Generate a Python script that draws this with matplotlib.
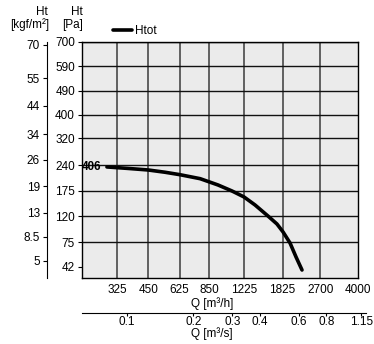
import numpy as np
import matplotlib
matplotlib.use("Agg")
import matplotlib.pyplot as plt
from matplotlib.ticker import NullLocator

plt.rcParams['font.family'] = ['Liberation Sans', 'DejaVu Sans']
plt.rcParams['font.size'] = 8.5

# fan curve
q_m3h = [293, 365, 450, 536, 626, 773, 931, 1076, 1221, 1369, 1566, 1720,
         1833, 1971, 2098, 2233]
h_pa = [235.6, 231.6, 227.4, 221.4, 215, 204.7, 189, 174.7, 160.8, 143.3,
        120.8, 105.7, 91.6, 73.8, 54, 38.3]

pa_ticks = [42, 75, 120, 175, 240, 320, 400, 490, 590, 700]
kgf_ticks = [5, 8.5, 13, 19, 26, 34, 44, 55, 70]
kgf_labels = ['5', '8.5', '13', '19', '26', '34', '44', '55', '70']
q_ticks = [325, 450, 625, 850, 1225, 1825, 2700, 4000]
qs_ticks = [0.1, 0.2, 0.3, 0.4, 0.6, 0.8, 1.15]
qs_labels = ['0.1', '0.2', '0.3', '0.4', '0.6', '0.8', '1.15']

W, H = 374, 344
fig = plt.figure(figsize=(W / 100, H / 100), dpi=100)

L, R, T, B = 82, 358, 42, 278
qmin, qmax = 226, 4000
ax = fig.add_axes([L / W, 1 - B / H, (R - L) / W, (B - T) / H])
ax.set_facecolor('#ebebeb')

ax.set_xscale('log')
ax.set_yscale('function', functions=(np.sqrt, np.square))
ax.set_xlim(qmin, qmax)
ax.set_ylim(30, 700)

ax.set_xticks(q_ticks, labels=[str(v) for v in q_ticks])
ax.xaxis.set_minor_locator(NullLocator())
ax.set_yticks(pa_ticks, labels=[str(v) for v in pa_ticks])
ax.yaxis.set_minor_locator(NullLocator())
ax.tick_params(axis='x', length=0, pad=4)
ax.tick_params(axis='y', length=3, pad=2)

for v in q_ticks[:-1]:
    ax.axvline(v, color='#3a3a3a', lw=1.1, zorder=1)
for v in pa_ticks[1:]:
    ax.axhline(v, color='#111111', lw=1.0, zorder=1)
for s in ax.spines.values():
    s.set_color('black')
    s.set_linewidth(1.0)

ax.plot(q_m3h, h_pa, color='black', lw=2.6, solid_capstyle='round',
        solid_joinstyle='round', zorder=3, label='Htot')
ax.text(qmin, h_pa[0], '406', fontweight='bold', ha='left', va='center',
        zorder=4)

ax.set_xlabel('Q [m³/h]')
ax.xaxis.set_label_coords(0.47, -0.08)

# second flow axis in m3/s, a bit longer than the plot on the right
ppd = (R - L) / np.log10(qmax / qmin)
R2 = 366
qmax2 = qmax * 10 ** ((R2 - R) / ppd)
sax = fig.add_axes([L / W, 1 - 313 / H, (R2 - L) / W, 0.001])
sax.set_xscale('log')
sax.set_xlim(qmin / 3600, qmax2 / 3600)
sax.set_xticks(qs_ticks, labels=qs_labels)
sax.xaxis.set_minor_locator(NullLocator())
sax.set_yticks([])
sax.tick_params(axis='x', length=2, pad=0.5)
for name, s in sax.spines.items():
    s.set_visible(name == 'bottom')
sax.patch.set_visible(False)
sax.set_xlabel('Q [m³/s]', labelpad=2)
sax.xaxis.set_label_coords((212 - L) / (R2 - L), -14 / 0.344)

# second pressure axis in kgf/m2
k = 9.80665
kx = 47
kax = fig.add_axes([kx / W, 1 - B / H, 0.001, (B - T) / H])
kax.set_yscale('function', functions=(np.sqrt, np.square))
kax.set_ylim(30 / k, 700 / k)
kax.set_yticks(kgf_ticks, labels=kgf_labels)
kax.yaxis.set_minor_locator(NullLocator())
kax.set_xticks([])
kax.tick_params(axis='y', length=3, pad=2)
for name, s in kax.spines.items():
    s.set_visible(name == 'left')
kax.patch.set_visible(False)

# headers
fig.text(48 / W, 1 - 12 / H, 'Ht', ha='right', va='center')
fig.text(49 / W, 1 - 25 / H, '[kgf/m²]', ha='right', va='center')
fig.text(83 / W, 1 - 12 / H, 'Ht', ha='right', va='center')
fig.text(83 / W, 1 - 25 / H, '[Pa]', ha='right', va='center')

fig.legend(loc='center left', bbox_to_anchor=(113 / W, 1 - 31 / H),
           frameon=False, handlelength=1.6, handletextpad=0.3,
           borderpad=0, borderaxespad=0)

fig.savefig('out.png', dpi=100)
